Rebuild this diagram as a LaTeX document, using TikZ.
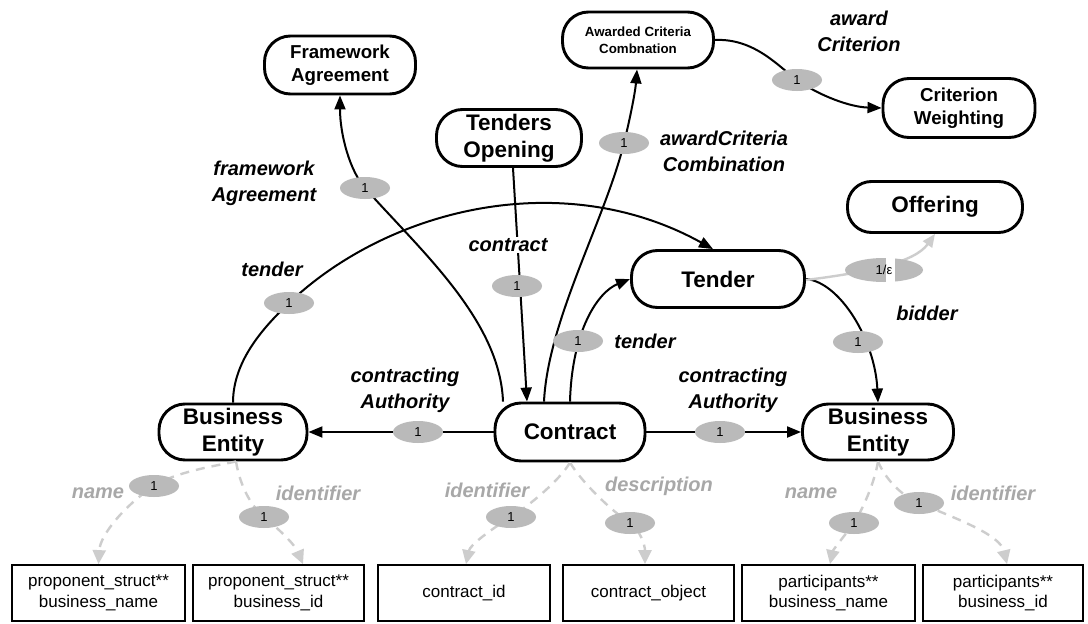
\documentclass[tikz,border=0pt]{standalone}
\usepackage{fontspec}
\setmainfont{Liberation Sans}
\usetikzlibrary{arrows.meta,shapes.geometric}
\definecolor{cardgrey}{RGB}{186,186,186}
\definecolor{labgrey}{RGB}{168,168,168}
\definecolor{linegrey}{RGB}{205,205,205}
\begin{document}
\begin{tikzpicture}[x=1pt,y=-1pt,
  ent/.style={draw,line width=2.9pt,rounded corners=26pt,align=center,inner sep=0pt,
    font=\fontsize{22.5}{27.5}\selectfont\bfseries},
  entmid/.style={ent,font=\fontsize{18.7}{23.5}\selectfont\bfseries},
  entsmall/.style={ent,font=\fontsize{13.3}{17}\selectfont\bfseries},
  attr/.style={draw,line width=1.8pt,minimum height=56pt,align=center,inner sep=0pt,
    font=\fontsize{17}{20.5}\selectfont},
  card/.style={ellipse,fill=cardgrey,minimum width=50pt,minimum height=22pt,inner sep=0pt,
    font=\fontsize{13}{13}\selectfont},
  role/.style={align=center,font=\fontsize{20}{26}\selectfont\bfseries\itshape},
  grole/.style={role,text=labgrey},
  rel/.style={line width=2pt,-{Triangle[length=14pt,width=11pt]}},
  grel/.style={draw=linegrey,line width=2.4pt,dash pattern=on 9pt off 7pt,
    -{Triangle[length=14pt,width=13pt,fill=linegrey,color=linegrey]}},
  gsolid/.style={draw=linegrey,line width=2.4pt,
    -{Triangle[length=13pt,width=11pt,fill=linegrey,color=linegrey]}}
]
\fill[white] (0,0) rectangle (1088,624);
\useasboundingbox (0,0) rectangle (1088,624);

% entity nodes
\node[entmid,minimum width=151pt,minimum height=58pt] (fa) at (340,65) {Framework\\Agreement};
\node[entsmall,minimum width=151pt,minimum height=56pt] (acc) at (638,40) {Awarded Criteria\\Combnation};
\node[entmid,minimum width=152pt,minimum height=59pt] (cw) at (959,108) {Criterion\\Weighting};
\node[ent,minimum width=145pt,minimum height=57pt] (to) at (509,138) {Tenders\\Opening};
\node[ent,rounded corners=24pt,minimum width=175pt,minimum height=51pt] (off) at (935,207) {Offering};
\node[ent,minimum width=173pt,minimum height=57pt] (tender) at (718,279) {Tender};
\node[ent,minimum width=148pt,minimum height=56pt] (beL) at (233,432) {Business\\Entity};
\node[ent,minimum width=150pt,minimum height=58pt] (contract) at (570,432) {Contract};
\node[ent,minimum width=151pt,minimum height=56pt] (beR) at (878,432) {Business\\Entity};

% attribute boxes
\node[attr,minimum width=173pt] (b1) at (98.5,593) {proponent\_struct**\\business\_name};
\node[attr,minimum width=171pt] (b2) at (278.5,593) {proponent\_struct**\\business\_id};
\node[attr,minimum width=172pt] (b3) at (464,593) {contract\_id};
\node[attr,minimum width=171pt] (b4) at (648.5,593) {contract\_object};
\node[attr,minimum width=173pt] (b5) at (828.5,593) {participants**\\business\_name};
\node[attr,minimum width=160pt] (b6) at (1003,593) {participants**\\business\_id};

% cardinality positions
\coordinate (cFA) at (365,188);
\coordinate (cACC) at (624,143);
\coordinate (cTO) at (517,286);
\coordinate (cCT) at (578,341);
\coordinate (cTL) at (289,303);
\coordinate (cBid) at (858,342);
\coordinate (cOff) at (884,270);
\coordinate (cAW) at (797,80);
\coordinate (cCAL) at (418,432);
\coordinate (cCAR) at (720,432);
\coordinate (gN1) at (154,486);
\coordinate (gI1) at (264,517);
\coordinate (gI2) at (511,517);
\coordinate (gD) at (630,523);
\coordinate (gN2) at (854,523);
\coordinate (gI3) at (919,503);

% black connectors
\draw[rel] ([xshift=-67pt]contract.north) .. controls (500,320) and (420,250) .. (cFA)
  .. controls (350,171) and (340,135) .. (fa.south);
\draw[rel] ([xshift=-26pt]contract.north) .. controls (548,320) and (605,220) .. (cACC)
  .. controls (628,127) and (635,95) .. ([xshift=-1pt]acc.south);
\draw[rel] ([xshift=4pt]to.south) -- ([xshift=-43pt]contract.north);
\draw[rel] (contract.north) .. controls (572,330) and (598,292) .. (tender.west);
\draw[rel] (beL.north) .. controls (233,360) and (265,326) .. (cTL)
  .. controls (389,208) and (563,166) .. ([xshift=-5pt]tender.north);
\draw[rel] (tender.east) .. controls (840,282) and (875,340) .. (beR.north);
\draw[rel] (acc.east) .. controls (755,38) and (780,68) .. (cAW)
  .. controls (820,96) and (850,107) .. (cw.west);
\draw[rel] (contract.west) -- (beL.east);
\draw[rel] (contract.east) -- (beR.west);
\draw[gsolid] ([yshift=-1pt]tender.east) .. controls (870,272) and (915,262) .. (off.south);

% grey dashed connectors
\draw[grel] ([xshift=3pt]beL.south) .. controls (215,466) and (175,472) .. (gN1)
  .. controls (125,505) and (100,535) .. (b1.north);
\draw[grel] ([xshift=3pt]beL.south) .. controls (240,485) and (250,505) .. (gI1)
  .. controls (280,530) and (295,545) .. ([xshift=24.5pt]b2.north);
\draw[grel] (contract.south) .. controls (560,480) and (530,505) .. (gI2)
  .. controls (490,530) and (470,545) .. ([xshift=2pt]b3.north);
\draw[grel] (contract.south) .. controls (580,480) and (610,510) .. (gD)
  .. controls (640,530) and (645,545) .. ([xshift=-3.5pt]b4.north);
\draw[grel] (beR.south) .. controls (875,480) and (865,505) .. (gN2)
  .. controls (845,535) and (833,550) .. ([xshift=1.5pt]b5.north);
\draw[grel] (beR.south) .. controls (885,478) and (900,495) .. (gI3)
  .. controls (960,520) and (1000,535) .. ([xshift=4pt]b6.north);

% cardinality ellipses
\foreach \c in {cFA,cACC,cTO,cCT,cTL,cBid,cAW,cCAL,cCAR,gN1,gI1,gI2,gD,gN2,gI3}
  \node[card] (k\c) at (\c) {1};
\node[card,minimum width=78pt,minimum height=24pt] (kOff) at (cOff) {};
\fill[white] (885.5,258) rectangle (894.5,282);
\node[inner sep=0pt,font=\fontsize{13}{13}\selectfont] (tOff) at (cOff) {1/ε};

% role labels
\node[role] (lfa) at (264,183) {framework\\Agreement};
\node[role] (ltl) at (272,269) {tender};
\node[role,fill=white,inner sep=1pt] (lto) at (508,245) {contract};
\node[role] (lct) at (645,341) {tender};
\node[role] (lacc) at (724,151) {awardCriteria\\Combination};
\node[role] (law) at (859,31) {award\\Criterion};
\node[role] (lbid) at (927,313) {bidder};
\node[role] (lcal) at (405,390) {contracting\\Authority};
\node[role] (lcar) at (733,390) {contracting\\Authority};

\node[grole] (gl1) at (98,493) {name};
\node[grole] (gl2) at (318,493) {identifier};
\node[grole] (gl3) at (487,490) {identifier};
\node[grole] (gl4) at (659,486) {description};
\node[grole] (gl5) at (811,493) {name};
\node[grole] (gl6) at (993,493) {identifier};
\end{tikzpicture}
\end{document}
